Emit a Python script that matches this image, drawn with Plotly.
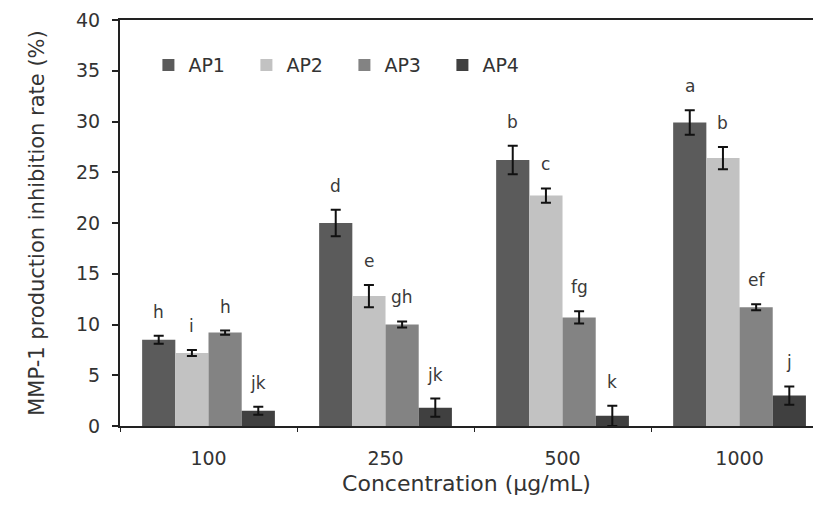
import plotly.graph_objects as go

categories = ["100", "250", "500", "1000"]
series_names = ["AP1", "AP2", "AP3", "AP4"]
ap1 = [8.5, 20.0, 26.2, 29.9]
ap2 = [7.2, 12.8, 22.7, 26.4]
ap3 = [9.2, 10.0, 10.7, 11.7]
ap4 = [1.5, 1.8, 1.0, 3.0]
ap1_err = [0.4, 1.3, 1.4, 1.2]
ap2_err = [0.3, 1.1, 0.7, 1.1]
ap3_err = [0.2, 0.3, 0.6, 0.3]
ap4_err = [0.4, 0.9, 1.0, 0.9]
ap1_letters = ["h", "d", "b", "a"]
ap2_letters = ["i", "e", "c", "b"]
ap3_letters = ["h", "gh", "fg", "ef"]
ap4_letters = ["jk", "jk", "k", "j"]
colors = ["#5b5b5b", "#c2c2c2", "#838383", "#404040"]

values = [ap1, ap2, ap3, ap4]
errors = [ap1_err, ap2_err, ap3_err, ap4_err]
letters = [ap1_letters, ap2_letters, ap3_letters, ap4_letters]

FONT = "DejaVu Sans, Arial, sans-serif"
TXT = "#333333"
bargap = 0.25

fig = go.Figure()
for name, v, e, c in zip(series_names, values, errors, colors):
    fig.add_trace(go.Bar(
        x=categories, y=v, name=name, marker=dict(color=c, line=dict(width=0)),
        error_y=dict(type="data", array=e, visible=True, color="#111111",
                     thickness=2, width=5),
    ))

n = len(series_names)
bw = (1 - bargap) / n
for k in range(n):
    off = -(1 - bargap) / 2 + bw * (k + 0.5)
    for i in range(len(categories)):
        fig.add_annotation(
            x=i + off, y=values[k][i] + errors[k][i], text=letters[k][i],
            showarrow=False, yanchor="bottom", yshift=12,
            font=dict(family=FONT, size=17, color="#3a3a3a"),
        )

fig.update_layout(
    width=813, height=507,
    margin=dict(l=120, r=0, t=20, b=81, autoexpand=False),
    plot_bgcolor="white", paper_bgcolor="white",
    barmode="group", bargap=bargap, bargroupgap=0,
    font=dict(family=FONT, size=19, color=TXT),
    legend=dict(orientation="h", x=0.041, y=0.889, yanchor="middle", xanchor="left",
                entrywidth=53, entrywidthmode="pixels",
                font=dict(family=FONT, size=19, color=TXT),
                bgcolor="rgba(0,0,0,0)"),
    showlegend=True,
)
fig.update_xaxes(
    type="category", range=[-0.5, 3.415], automargin=False,
    showline=True, linecolor="#222222", linewidth=2, mirror=True,
    ticks="outside", tickson="boundaries", ticklen=4, tickcolor="#222222",
    showgrid=False, zeroline=False,
    tickfont=dict(family=FONT, size=19, color=TXT),
    ticklabelstandoff=14,
    title=dict(text="Concentration (µg/mL)", font=dict(family=FONT, size=22, color=TXT), standoff=8),
)
fig.update_yaxes(
    range=[0, 40], dtick=5, tick0=0, automargin=False,
    showline=True, linecolor="#222222", linewidth=2,
    ticks="outside", ticklen=6, tickcolor="#222222", tickwidth=2,
    showgrid=False, zeroline=False,
    tickfont=dict(family=FONT, size=19, color=TXT),
    ticklabelstandoff=8,
    title=dict(text="MMP-1 production inhibition rate (%)", font=dict(family=FONT, size=21, color=TXT), standoff=26),
)

fig.write_html(
    "out.html",
    config={"displayModeBar": False},
    post_script="document.body.style.margin='0';document.body.style.overflow='hidden';",
)
